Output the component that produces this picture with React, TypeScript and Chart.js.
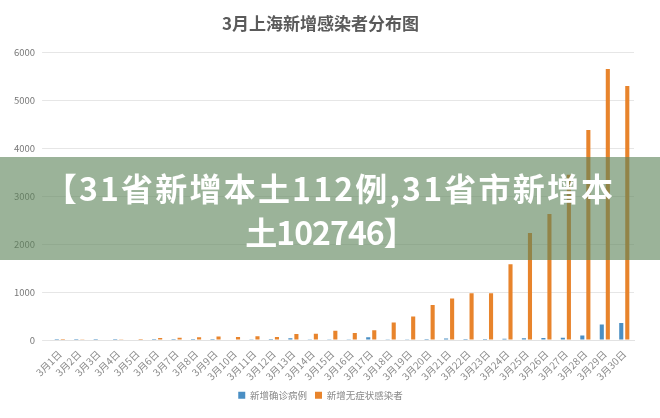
import { useEffect, useRef } from 'react'
import { Chart, registerables } from 'chart.js'

Chart.register(...registerables)

const TITLE = '3月上海新增感染者分布图'
const DAYS = Array.from({ length: 30 }, (_, i) => `3月${i + 1}日`)
const CONFIRMED = [1, 3, 2, 3, 0, 3, 4, 3, 4, 11, 5, 1, 41, 9, 5, 8, 57, 8, 17, 24, 31, 4, 4, 29, 38, 45, 50, 96, 326, 355]
const ASYMPTOMATIC = [1, 5, 14, 16, 2, 45, 51, 62, 76, 64, 78, 64, 128, 130, 197, 150, 203, 366, 492, 734, 865, 977, 979, 1580, 2231, 2631, 3450, 4381, 5656, 5298]
const Y_TICKS = [0, 1000, 2000, 3000, 4000, 5000, 6000]
const BANNER_LINE_1 = '【31省新增本土112例,31省市新增本'
const BANNER_LINE_2 = '土102746】'

const FONT = '"Noto Sans CJK SC", "Noto Sans", sans-serif'

export default function App() {
  const canvasRef = useRef<HTMLCanvasElement>(null)
  const chartRef = useRef<Chart | null>(null)

  useEffect(() => {
    document.body.style.margin = '0'
    if (!canvasRef.current) return
    chartRef.current?.destroy()
    chartRef.current = new Chart(canvasRef.current, {
      type: 'bar',
      data: {
        labels: DAYS,
        datasets: [
          {
            label: '新增确诊病例',
            data: CONFIRMED,
            backgroundColor: '#4a8fc4',
            categoryPercentage: 0.62,
            barPercentage: 0.68,
          },
          {
            label: '新增无症状感染者',
            data: ASYMPTOMATIC,
            backgroundColor: '#e8842c',
            categoryPercentage: 0.62,
            barPercentage: 0.68,
          },
        ],
      },
      options: {
        responsive: true,
        maintainAspectRatio: false,
        animation: false,
        layout: { padding: { left: 7, right: 26, top: 6, bottom: 8 } },
        plugins: {
          title: {
            display: true,
            text: TITLE,
            color: '#5a5a5a',
            font: { family: FONT, size: 17, weight: 'bold' },
            padding: { top: 7, bottom: 19 },
          },
          legend: {
            position: 'bottom',
            labels: {
              boxWidth: 7,
              boxHeight: 7,
              color: '#888',
              font: { family: FONT, size: 9.5 },
              padding: 8,
            },
          },
          tooltip: { enabled: false },
        },
        scales: {
          x: {
            grid: { display: false },
            border: { color: '#e2e2e2' },
            ticks: {
              color: '#8a8a8a',
              font: { family: FONT, size: 10 },
              maxRotation: 45,
              minRotation: 45,
              autoSkip: false,
              padding: 0,
            },
          },
          y: {
            min: 0,
            max: 6000,
            afterBuildTicks: (axis) => {
              axis.ticks = Y_TICKS.map((v) => ({ value: v }))
            },
            grid: { color: '#e6e6e6' },
            border: { display: false },
            ticks: {
              color: '#777',
              font: { family: FONT, size: 9.5 },
              padding: 7,
              callback: (v) => String(v),
            },
          },
        },
      },
    })
    return () => {
      chartRef.current?.destroy()
      chartRef.current = null
    }
  }, [])

  return (
    <div style={{ position: 'absolute', left: 0, top: 0, width: 660, height: 418, background: '#fff' }}>
      <canvas ref={canvasRef} />
      <div
        style={{
          position: 'absolute',
          left: 0,
          top: 157,
          width: 660,
          height: 103,
          background: 'rgba(94,132,90,0.62)',
          color: '#fff',
          fontFamily: FONT,
          fontWeight: 700,
          fontSize: 32,
          textAlign: 'center',
          lineHeight: '44px',
          paddingTop: 8,
          boxSizing: 'border-box',
          whiteSpace: 'nowrap',
        }}
      >
        <div style={{ letterSpacing: 2.2 }}>{BANNER_LINE_1}</div>
        <div style={{ letterSpacing: -1 }}>{BANNER_LINE_2}</div>
      </div>
    </div>
  )
}
